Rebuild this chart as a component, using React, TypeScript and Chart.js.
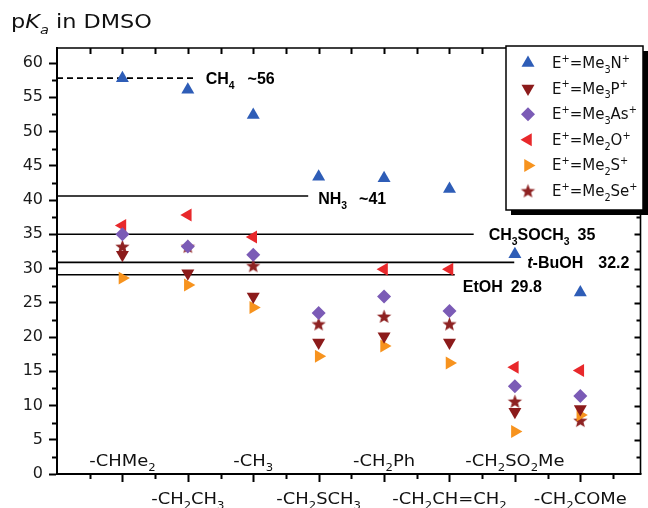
import React, { useEffect, useRef } from 'react';
import { Chart, registerables } from 'chart.js';
import { drawPoint } from 'chart.js/helpers';

Chart.register(...registerables);

// ---------- data ----------
const categories = ['-CHMe2', '-CH2CH3', '-CH3', '-CH2SCH3', '-CH2Ph', '-CH2CH=CH2', '-CH2SO2Me', '-CH2COMe'];

const seriesLabels = ['E+=Me3N+', 'E+=Me3P+', 'E+=Me3As+', 'E+=Me2O+', 'E+=Me2S+', 'E+=Me2Se+'];
const me3N = [57.8, 56.1, 52.4, 43.4, 43.2, 41.6, 32.1, 26.5];
const me3P = [32.0, 29.3, 25.9, 19.2, 20.1, 19.2, 9.1, 9.5];
const me3As = [35.0, 33.2, 32.0, 23.5, 25.9, 23.8, 12.8, 11.4];
const me2O = [36.3, 37.8, 34.6, null, 29.9, 29.9, 15.6, 15.1];
const me2S = [28.6, 27.6, 24.3, 17.2, 18.7, 16.2, 6.2, 8.6];
const me2Se = [33.2, 33.2, 30.4, 21.9, 23.0, 21.9, 10.6, 7.8];

const refNames = ['CH4', 'NH3', 'CH3SOCH3', 't-BuOH', 'EtOH'];
const refValueTexts = ['~56', '~41', '35', '32.2', '29.8'];
const refLevels = [57.8, 40.6, 35.0, 30.9, 29.1];
const refEnds = [1.12, 2.84, 5.37, 5.99, 5.08];

const yMin = 0;
const yMax = 62.2;
const yStep = 5;
const xMin = -1;
const xMax = 7.92;

// ---------- styles ----------
const REG = 'DejaVu Sans';
const BOLD = 'Liberation Sans';

type Seg = { t: string; sub?: boolean; sup?: boolean; it?: boolean };

function chem(s: string): Seg[] {
  const out: Seg[] = [];
  for (const ch of s) {
    const sub = /\d/.test(ch);
    const sup = ch === '+';
    const last = out[out.length - 1];
    if (last && !!last.sub === sub && !!last.sup === sup) last.t += ch;
    else out.push({ t: ch, sub, sup });
  }
  return out;
}

function drawRich(
  ctx: CanvasRenderingContext2D,
  segs: Seg[],
  x: number,
  y: number,
  o: { size: number; family: string; bold?: boolean; align?: 'left' | 'center'; sx?: number; color?: string }
) {
  const sx = o.sx ?? 1;
  const fontFor = (s: Seg) => {
    const sz = s.sub || s.sup ? o.size * 0.65 : o.size;
    return `${s.it ? 'italic ' : ''}${o.bold ? 'bold ' : ''}${sz}px "${o.family}"`;
  };
  let total = 0;
  const widths = segs.map((s) => {
    ctx.font = fontFor(s);
    const w = ctx.measureText(s.t).width;
    total += w;
    return w;
  });
  const start = o.align === 'center' ? x - (total * sx) / 2 : x;
  ctx.save();
  ctx.translate(start, y);
  ctx.scale(sx, 1);
  ctx.fillStyle = o.color ?? '#111';
  ctx.textAlign = 'left';
  ctx.textBaseline = 'alphabetic';
  let cx = 0;
  segs.forEach((s, i) => {
    ctx.font = fontFor(s);
    const dy = s.sub ? o.size * 0.32 : s.sup ? -o.size * 0.42 : 0;
    ctx.fillText(s.t, cx, dy);
    cx += widths[i];
  });
  ctx.restore();
  return total * sx;
}

function makeStar(color: string, R: number, r: number) {
  const c = document.createElement('canvas');
  const s = Math.ceil(R * 2 + 2);
  c.width = s;
  c.height = s;
  const g = c.getContext('2d')!;
  g.fillStyle = color;
  g.beginPath();
  for (let i = 0; i < 10; i++) {
    const ang = -Math.PI / 2 + (i * Math.PI) / 5;
    const rad = i % 2 === 0 ? R : r;
    g.lineTo(s / 2 + rad * Math.cos(ang), s / 2 + rad * Math.sin(ang) + 0.5);
  }
  g.closePath();
  g.fill();
  return c;
}

const decoPlugin = {
  id: 'deco',
  afterDatasetsDraw(chart: any) {
    const { ctx, chartArea: a, scales } = chart;
    const x = scales.x;
    const y = scales.y;
    ctx.save();
    ctx.strokeStyle = '#000';
    ctx.lineCap = 'butt';

    // frame
    ctx.lineWidth = 2;
    ctx.beginPath();
    ctx.moveTo(a.left - 1, a.bottom);
    ctx.lineTo(a.right + 1, a.bottom);
    ctx.stroke();
    ctx.lineWidth = 1.6;
    ctx.beginPath();
    ctx.moveTo(a.left, a.top);
    ctx.lineTo(a.right, a.top);
    ctx.lineTo(a.right, a.bottom);
    ctx.stroke();

    // x ticks
    ctx.lineWidth = 2;
    for (let k = 1; ; k++) {
      const v = xMin + k * 0.5;
      if (v > xMax) break;
      const px = Math.round(x.getPixelForValue(v)) + 0.5;
      const major = k % 2 === 0;
      ctx.beginPath();
      ctx.moveTo(px, a.bottom);
      ctx.lineTo(px, a.bottom + (major ? 8 : 5));
      ctx.moveTo(px, a.top);
      ctx.lineTo(px, a.top + 6);
      ctx.stroke();
    }
    // y minor ticks + right ticks
    for (let k = 1; ; k++) {
      const v = yMin + k * (yStep / 2);
      if (v > yMax) break;
      const py = Math.round(y.getPixelForValue(v)) + 0.5;
      const major = k % 2 === 0;
      ctx.beginPath();
      if (!major) {
        ctx.moveTo(a.left - 5, py);
        ctx.lineTo(a.left, py);
      }
      ctx.moveTo(a.right, py);
      ctx.lineTo(a.right - (major ? 6 : 4), py);
      ctx.stroke();
    }

    // category labels
    categories.forEach((c, i) => {
      const px = x.getPixelForValue(i);
      const base = i % 2 === 0 ? a.bottom - 8 : a.bottom + 30;
      drawRich(ctx, chem(c), px, base, { size: 16, family: REG, align: 'center', sx: 1.12 });
    });

    // reference labels
    const dx = [10, 10, 15, 13, 8];
    const dy = [6, 8, 6, 6, 17];
    const gaps = [13, 12, 8, 15, 8];
    refNames.forEach((n, i) => {
      const px = x.getPixelForValue(refEnds[i]) + dx[i];
      const py = y.getPixelForValue(refLevels[i]) + dy[i];
      let segs: Seg[];
      if (n.startsWith('t-')) segs = [{ t: 't', it: true }, { t: n.slice(1) }];
      else segs = chem(n);
      const w = drawRich(ctx, segs, px, py, { size: 16, family: BOLD, bold: true, color: '#000' });
      drawRich(ctx, [{ t: refValueTexts[i] }], px + w + gaps[i], py, { size: 16, family: BOLD, bold: true, color: '#000' });
    });

    // legend
    const bx = 506, by = 46, bw = 137, bh = 164;
    ctx.fillStyle = '#000';
    ctx.fillRect(bx + 5, by + 5, bw, bh);
    ctx.fillStyle = '#fff';
    ctx.fillRect(bx, by, bw, bh);
    ctx.lineWidth = 1.5;
    ctx.strokeRect(bx, by, bw, bh);
    const ds = chart.data.datasets;
    for (let i = 0; i < seriesLabels.length; i++) {
      const d = ds[i];
      const cy = 63 + i * 25.6;
      ctx.save();
      ctx.fillStyle = d.pointBackgroundColor;
      drawPoint(ctx, { pointStyle: d.pointStyle, rotation: d.pointRotation, radius: d.pointRadius, borderWidth: 0 } as any, 528, cy);
      ctx.restore();
      drawRich(ctx, chem(seriesLabels[i]), 552, cy + 5, { size: 15, family: REG });
    }

    // title
    drawRich(
      ctx,
      [{ t: 'p' }, { t: 'K', it: true }, { t: 'a', it: true, sub: true }, { t: ' in DMSO' }],
      11,
      28,
      { size: 20, family: REG, sx: 1.12 }
    );

    ctx.restore();
  },
};

export default function App() {
  const ref = useRef<HTMLCanvasElement>(null);
  useEffect(() => {
    if (!ref.current) return;
    const starImg = makeStar('#8E2222', 7.5, 3.2);
    const series = [me3N, me3P, me3As, me2O, me2S, me2Se];
    const styles: any[] = [
      { color: '#2E5DB7', style: 'triangle', rot: 0, r: 7.5 },
      { color: '#8C1B1B', style: 'triangle', rot: 180, r: 7.5 },
      { color: '#7B5BB6', style: 'rectRot', rot: 0, r: 7 },
      { color: '#E8282B', style: 'triangle', rot: -90, r: 7.5 },
      { color: '#F7931E', style: 'triangle', rot: 90, r: 7.5 },
      { color: '#8E2222', style: starImg, rot: 0, r: 7.5 },
    ];
    const pointSets = series.map((vals, si) => ({
      label: seriesLabels[si],
      data: vals
        .map((v, i) => (v == null ? null : { x: i, y: v }))
        .filter((p) => p !== null),
      pointStyle: styles[si].style,
      pointRotation: styles[si].rot,
      pointRadius: styles[si].r,
      pointBackgroundColor: styles[si].color,
      pointBorderWidth: 0,
      borderWidth: 0,
      showLine: false,
    }));
    const lineSets = refNames.map((n, i) => ({
      label: n,
      data: [
        { x: xMin, y: refLevels[i] },
        { x: refEnds[i], y: refLevels[i] },
      ],
      showLine: true,
      borderColor: '#000',
      borderWidth: 1.6,
      borderDash: i === 0 ? [6, 4] : [],
      pointRadius: 0,
      fill: false,
    }));
    const chart = new Chart(ref.current, {
      type: 'scatter',
      data: { datasets: [...pointSets, ...lineSets] as any },
      options: {
        responsive: false,
        devicePixelRatio: 1,
        animation: false,
        events: [],
        layout: { padding: { left: 0, top: 48, right: 3, bottom: 34 } },
        plugins: { legend: { display: false }, tooltip: { enabled: false } },
        scales: {
          x: { type: 'linear', min: xMin, max: xMax, display: false },
          y: {
            type: 'linear',
            min: yMin,
            max: yMax,
            position: 'left',
            afterFit: (s: any) => {
              s.width = 57;
            },
            ticks: {
              stepSize: yStep,
              includeBounds: false,
              padding: 6,
              color: '#1a1a1a',
              font: { family: REG, size: 16 },
            },
            grid: {
              display: true,
              drawOnChartArea: false,
              drawTicks: true,
              tickLength: 8,
              tickWidth: 2,
              tickColor: '#000',
            },
            border: { display: true, width: 2, color: '#000' },
          },
        },
      },
      plugins: [decoPlugin],
    });
    return () => chart.destroy();
  }, []);
  return (
    <div style={{ position: 'absolute', left: 0, top: 0, width: 648, height: 508, background: '#fff' }}>
      <canvas ref={ref} width={648} height={508} style={{ display: 'block' }} />
    </div>
  );
}
